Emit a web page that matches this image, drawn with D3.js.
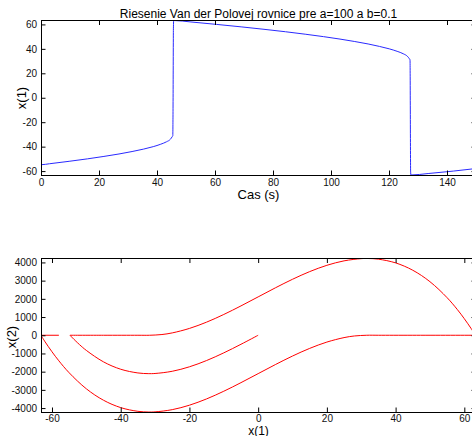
<!DOCTYPE html>
<html>
<head>
<meta charset="utf-8">
<script src="https://cdn.jsdelivr.net/npm/d3@7"></script>
<style>
  body { margin: 0; background: #fff; }
  svg { display: block; font-family: "Liberation Sans", Arial, Helvetica, sans-serif; }
  .tick text { font-size: 10px; fill: #111; }
</style>
</head>
<body>
<div id="chart"></div>
<script>
// time series of x(1)
var timeS = [0, 0.02, 0.05, 0.1, 2.9, 9.7, 16.0, 21.7, 26.9, 31.4, 35.4, 38.7, 41.3, 43.3, 44.6, 45.2, 45.45,
  45.5, 45.55, 45.6, 45.65, 45.75, 51.7, 60.6, 69.0, 76.9, 84.3, 91.1, 97.4, 103.1, 108.2, 112.8, 116.7, 120.1,
  122.8, 124.9, 126.3, 127.0, 127.25, 127.3, 127.35, 127.4, 127.45, 127.55, 133.5, 142.2, 150];
var x1S = [0, -30, -54, -54.77, -54, -52, -50, -48, -46, -44, -42, -40, -38, -36, -34, -32, -31,
  -20, 0, 30, 55, 63.2, 62, 60, 58, 56, 54, 52, 50, 48, 46, 44, 42, 40,
  38, 36, 34, 32, 31, 20, -10, -40, -60, -63.2, -62, -60, -57.9];

// phase plane x(2) vs x(1), in pieces
var startX1 = [0, -5, -10, -15, -20, -25, -30, -32, -35, -40, -45, -50, -52, -54, -54.77];
var startX2 = [0, -496, -967, -1388, -1733, -1979, -2100, -2108, -2071, -1867, -1463, -833, -513, -151, 0];

var upX1 = [-54.77, -45, -35, -31.6, -28, -25, -20, -15, -10, -5, 0, 5, 10, 15, 20, 25, 30, 32, 35, 40, 45, 50, 55, 58, 60, 62, 63.2];
var upX2 = [0, 0, 0, 0, 40, 129, 375, 721, 1142, 1612, 2108, 2604, 3075, 3496, 3842, 4087, 4208, 4216, 4179, 3975, 3571, 2942, 2062, 1405, 908, 364, 0];

var downX1 = [63.2, 45, 35, 31.6, 28, 25, 20, 15, 10, 5, 0, -5, -10, -15, -20, -25, -30, -32, -35, -40, -45, -50, -55, -58, -60, -62, -63.2];
var downX2 = [0, 0, 0, 0, -40, -129, -375, -721, -1142, -1612, -2108, -2604, -3075, -3496, -3842, -4087, -4208, -4216, -4179, -3975, -3571, -2942, -2062, -1405, -908, -364, 0];

var endX1 = [-63.2, -58];
var endX2 = [0, 0];

var tTicks = [0, 20, 40, 60, 80, 100, 120, 140];
var x1TicksTop = [-60, -40, -20, 0, 20, 40, 60];
var x1Ticks = [-60, -40, -20, 0, 20, 40, 60];
var x2Ticks = [-4000, -3000, -2000, -1000, 0, 1000, 2000, 3000, 4000];

var W = 472, H = 436;
var svg = d3.select("#chart").append("svg").attr("width", W).attr("height", H);
svg.append("rect").attr("width", W).attr("height", H).attr("fill", "#fff");

function zip(a, b) { return a.map(function(v, i) { return [v, b[i]]; }); }

function drawAxes(g, x, y, xt, yt, pad) {
  var fmt = function(d) { return String(d); };
  var r = x.range(), b = y.range();
  g.append("g").attr("transform", "translate(0," + b[0] + ")")
    .call(d3.axisBottom(x).tickValues(xt).tickFormat(fmt).tickSizeInner(-4.5).tickSizeOuter(0).tickPadding(pad));
  g.append("g").attr("transform", "translate(0," + b[1] + ")")
    .call(d3.axisTop(x).tickValues(xt).tickFormat("").tickSizeInner(-4.5).tickSizeOuter(0));
  g.append("g").attr("transform", "translate(" + r[0] + ",0)")
    .call(d3.axisLeft(y).tickValues(yt).tickFormat(fmt).tickSizeInner(-4.5).tickSizeOuter(0).tickPadding(4));
  g.append("g").attr("transform", "translate(" + r[1] + ",0)")
    .call(d3.axisRight(y).tickValues(yt).tickFormat("").tickSizeInner(-4.5).tickSizeOuter(0));
  g.selectAll(".domain").remove();
  g.selectAll(".tick line").attr("stroke", "#000");
  g.append("rect")
    .attr("x", r[0]).attr("y", b[1])
    .attr("width", r[1] - r[0]).attr("height", b[0] - b[1])
    .attr("fill", "none").attr("stroke", "#000").attr("stroke-width", 1)
    .attr("shape-rendering", "crispEdges");
}

// ---- top plot
var x1 = d3.scaleLinear().domain([0, 150]).range([41, 476]);
var y1 = d3.scaleLinear().domain([-63.2, 63.2]).range([175, 20.5]);
var g1 = svg.append("g");

svg.append("clipPath").attr("id", "clip1").append("rect")
  .attr("x", 41).attr("y", 20.5).attr("width", 435).attr("height", 154.5);

g1.append("path")
  .datum(zip(timeS, x1S))
  .attr("clip-path", "url(#clip1)")
  .attr("fill", "none").attr("stroke", "#2a2aff").attr("stroke-width", 1)
  .attr("d", d3.line().x(function(d) { return x1(d[0]); }).y(function(d) { return y1(d[1]); }).curve(d3.curveMonotoneX));

drawAxes(g1, x1, y1, tTicks, [-60, -40, -20, 0, 20, 40, 60], 4);

svg.append("text").attr("x", 258.5).attr("y", 18).attr("text-anchor", "middle")
  .attr("font-size", 12).attr("fill", "#000")
  .text("Riesenie Van der Polovej rovnice pre a=100 a b=0.1");
svg.append("text").attr("x", 258.5).attr("y", 199).attr("text-anchor", "middle")
  .attr("font-size", 13).attr("fill", "#000").text("Cas (s)");
svg.append("text").attr("transform", "translate(26,98) rotate(-90)").attr("text-anchor", "middle")
  .attr("font-size", 13).attr("fill", "#000").text("x(1)");

// ---- bottom plot
var x2 = d3.scaleLinear().domain([-63.2, 63.4]).range([41, 476]);
var y2 = d3.scaleLinear().domain([-4216, 4216]).range([412, 258.5]);
var g2 = svg.append("g");

svg.append("clipPath").attr("id", "clip2").append("rect")
  .attr("x", 41).attr("y", 258).attr("width", 435).attr("height", 155);

var phaseLine = d3.line()
  .x(function(d) { return x2(d[0]); })
  .y(function(d) { return y2(d[1]); })
  .curve(d3.curveCatmullRom.alpha(0.5));

[[startX1, startX2], [upX1, upX2], [downX1, downX2], [endX1, endX2]].forEach(function(p) {
  g2.append("path")
    .datum(zip(p[0], p[1]))
    .attr("clip-path", "url(#clip2)")
    .attr("fill", "none").attr("stroke", "#ff0000").attr("stroke-width", 1)
    .attr("d", phaseLine);
});

drawAxes(g2, x2, y2, x1Ticks, x2Ticks, 3);

svg.append("text").attr("x", 258.5).attr("y", 434.5).attr("text-anchor", "middle")
  .attr("font-size", 12).attr("fill", "#000").text("x(1)");
svg.append("text").attr("transform", "translate(16,337) rotate(-90)").attr("text-anchor", "middle")
  .attr("font-size", 13).attr("fill", "#000").text("x(2)");
</script>
</body>
</html>
